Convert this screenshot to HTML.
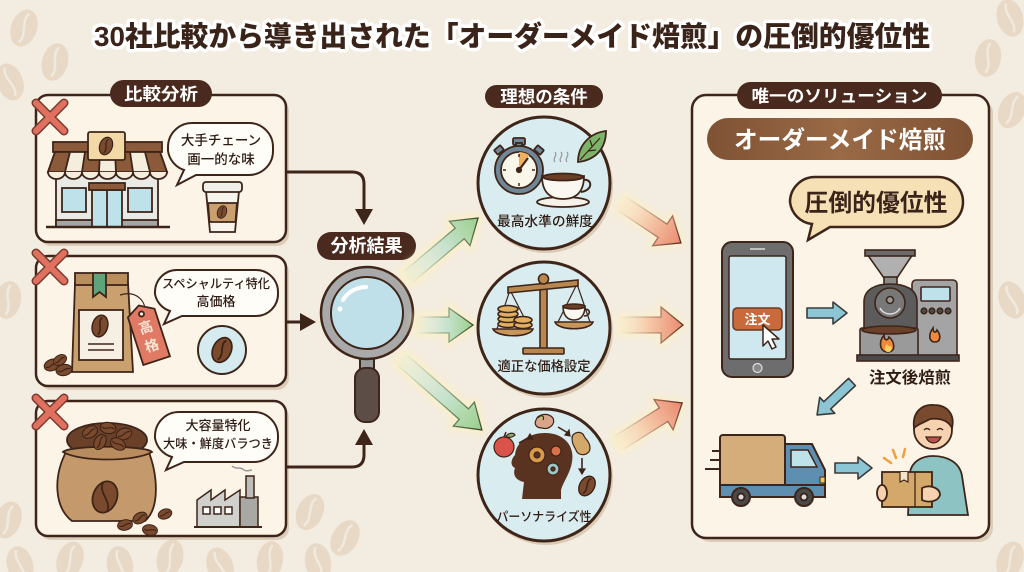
<!DOCTYPE html>
<html><head><meta charset="utf-8">
<style>
html,body{margin:0;padding:0;background:#f3ece1;}
svg{display:block;}
text{font-family:"Liberation Sans","Noto Sans CJK JP",sans-serif;font-weight:700;}
.sm{font-weight:500;}
</style></head>
<body>
<svg width="1024" height="572" viewBox="0 0 1024 572" xmlns="http://www.w3.org/2000/svg">
<defs>
 <g id="bean"><ellipse rx="7" ry="10" fill="#7a4a2e" stroke="#3b2216" stroke-width="1.3"/><path d="M0,-8 C-4,-3 4,3 0,8" fill="none" stroke="#3b2216" stroke-width="1.4"/></g>
 <g id="bgb"><ellipse rx="13" ry="19" fill="#e7d9c6"/><path d="M0,-15 C-6,-5 6,5 0,15" fill="none" stroke="#f2e9dd" stroke-width="2.5"/></g>
 <linearGradient id="gArr" x1="0" y1="0" x2="1" y2="0"><stop offset="0" stop-color="#d6ebee" stop-opacity="0.2"/><stop offset="0.55" stop-color="#c6e2cc"/><stop offset="1" stop-color="#9bcf8c"/></linearGradient>
 <linearGradient id="gStr" x1="0" y1="0" x2="1" y2="0"><stop offset="0" stop-color="#4d6b45" stop-opacity="0"/><stop offset="0.6" stop-color="#4d6b45" stop-opacity="0.6"/><stop offset="1" stop-color="#3e4a30"/></linearGradient>
 <linearGradient id="sArr" x1="0" y1="0" x2="1" y2="0"><stop offset="0" stop-color="#f8e6cc" stop-opacity="0.3"/><stop offset="0.5" stop-color="#f4c4a4"/><stop offset="1" stop-color="#ea8a70"/></linearGradient>
 <linearGradient id="sStr" x1="0" y1="0" x2="1" y2="0"><stop offset="0" stop-color="#7a3e2e" stop-opacity="0"/><stop offset="0.6" stop-color="#7a3e2e" stop-opacity="0.5"/><stop offset="1" stop-color="#5a2e22"/></linearGradient>
 <linearGradient id="barG" x1="0" y1="0" x2="1" y2="0"><stop offset="0" stop-color="#7f5234"/><stop offset="0.5" stop-color="#9a6a46"/><stop offset="1" stop-color="#7f5234"/></linearGradient>
 <filter id="blur" x="-30%" y="-30%" width="160%" height="160%"><feGaussianBlur stdDeviation="4"/></filter>
</defs>

<!-- background -->
<rect width="1024" height="572" fill="#f3ece1"/>
<use href="#bgb" transform="translate(24,28) rotate(20)"/>
<use href="#bgb" transform="translate(55,62) rotate(15)"/>
<use href="#bgb" transform="translate(10,82) rotate(-20)"/>
<use href="#bgb" transform="translate(1010,18) rotate(-15)"/>
<use href="#bgb" transform="translate(988,58) rotate(10)"/>
<use href="#bgb" transform="translate(1012,110) rotate(25)"/>
<use href="#bgb" transform="translate(1012,300) rotate(-20)"/>
<use href="#bgb" transform="translate(1010,560) rotate(20)"/>
<use href="#bgb" transform="translate(8,520) rotate(20)"/>
<use href="#bgb" transform="translate(20,565) rotate(-15)"/>
<use href="#bgb" transform="translate(70,560) rotate(20)"/>
<use href="#bgb" transform="translate(120,565) rotate(-10)"/>
<use href="#bgb" transform="translate(170,558) rotate(15)"/>
<use href="#bgb" transform="translate(220,566) rotate(-20)"/>
<use href="#bgb" transform="translate(270,560) rotate(10)"/>
<use href="#bgb" transform="translate(310,512) rotate(25)"/>
<use href="#bgb" transform="translate(345,538) rotate(30)"/>
<use href="#bgb" transform="translate(318,562) rotate(-10)"/>
<use href="#bgb" transform="translate(8,300) rotate(10)"/>

<!-- title -->
<text x="512" y="46" text-anchor="middle" font-size="28" textLength="836" lengthAdjust="spacingAndGlyphs" fill="#3a2318" stroke="#ffffff" stroke-width="7" stroke-linejoin="round" paint-order="stroke" style="font-weight:900">30社比較から導き出された「オーダーメイド焙煎」の圧倒的優位性</text>

<!-- ===== LEFT PANELS ===== -->
<g stroke="#3e2519" stroke-width="2.5">
 <rect x="39" y="99" width="250" height="147" rx="12" fill="#dccdb9" stroke="none"/>
 <rect x="36" y="95" width="250" height="147" rx="12" fill="#fcf4e7"/>
 <rect x="39" y="260" width="250" height="130" rx="12" fill="#dccdb9" stroke="none"/>
 <rect x="36" y="256" width="250" height="130" rx="12" fill="#fcf4e7"/>
 <rect x="39" y="405" width="250" height="135" rx="12" fill="#dccdb9" stroke="none"/>
 <rect x="36" y="401" width="250" height="135" rx="12" fill="#fcf4e7"/>
</g>
<rect x="110" y="80" width="102" height="27" rx="13.5" fill="#4a2a1e"/>
<text x="161" y="100" text-anchor="middle" font-size="17" fill="#fff" textLength="74" lengthAdjust="spacingAndGlyphs">比較分析</text>

<!-- red X marks -->
<g stroke-linecap="round">
 <g transform="translate(50,117)"><path d="M-14,-14 L14,14 M14,-14 L-14,14" stroke="#7a3a2e" stroke-width="9"/><path d="M-14,-14 L14,14 M14,-14 L-14,14" stroke="#e0705f" stroke-width="6"/></g>
 <g transform="translate(50,267)"><path d="M-14,-14 L14,14 M14,-14 L-14,14" stroke="#7a3a2e" stroke-width="9"/><path d="M-14,-14 L14,14 M14,-14 L-14,14" stroke="#e0705f" stroke-width="6"/></g>
 <g transform="translate(50,412)"><path d="M-14,-14 L14,14 M14,-14 L-14,14" stroke="#7a3a2e" stroke-width="9"/><path d="M-14,-14 L14,14 M14,-14 L-14,14" stroke="#e0705f" stroke-width="6"/></g>
</g>

<!-- Panel 1: store -->
<g stroke="#3e2519" stroke-width="1.8">
 <rect x="56" y="175" width="102" height="52" fill="#e9e9e6"/>
 <rect x="56" y="220" width="102" height="7" fill="#a5a5a5"/>
 <rect x="62" y="188" width="24" height="24" fill="#bfe1ea"/>
 <rect x="128" y="188" width="24" height="24" fill="#bfe1ea"/>
 <rect x="92" y="190" width="30" height="37" fill="#bfe1ea"/>
 <line x1="107" y1="190" x2="107" y2="227"/>
 <rect x="89" y="183" width="36" height="7" fill="#8a5a3a"/>
 <line x1="46" y1="227" x2="170" y2="227" stroke-width="2.5"/>
 <rect x="53" y="142" width="109" height="10" fill="#8a5a3a"/>
 <polygon points="55,152 160,152 167,172 48,172" fill="#f6eedd"/>
 <polygon points="55,152 70,152 65,172 48,172" fill="#8a5a3a"/>
 <polygon points="85,152 100,152 99,172 82,172" fill="#8a5a3a"/>
 <polygon points="115,152 130,152 133,172 116,172" fill="#8a5a3a"/>
 <polygon points="145,152 160,152 167,172 150,172" fill="#8a5a3a"/>
 <path d="M48,172 a8.5,7 0 0 0 17,0 a8.5,7 0 0 0 17,0 a8.5,7 0 0 0 17,0 a8.5,7 0 0 0 17,0 a8.5,7 0 0 0 17,0 a8.5,7 0 0 0 17,0 a8.5,7 0 0 0 17,0" fill="#f6eedd"/>
 <rect x="88" y="132" width="37" height="28" rx="2" fill="#f3d9a6"/>
</g>
<use href="#bean" transform="translate(106,146) rotate(20) scale(0.9)"/>
<path d="M192,123 H249 A24,24 0 0 1 273,147 V151 A24,24 0 0 1 249,175 H196 L177,185 L184,170 A24,24 0 0 1 168,151 V147 A24,24 0 0 1 192,123 Z" fill="#fffdf8" stroke="#3e2519" stroke-width="2"/>
<text class="sm" x="221" y="145" text-anchor="middle" font-size="13.5" fill="#2e1c14">大手チェーン</text>
<text class="sm" x="221" y="164" text-anchor="middle" font-size="13.5" fill="#2e1c14">画一的な味</text>
<g stroke="#3e2519" stroke-width="1.8">
 <path d="M206,191 H239 L235,232 H210 Z" fill="#f7f4ee"/>
 <path d="M208,203 H237 L235.5,222 H209.5 Z" fill="#c9a06e"/>
 <rect x="203" y="182" width="39" height="10" rx="3" fill="#f0efea"/>
</g>
<use href="#bean" transform="translate(222,212) rotate(20) scale(0.65)"/>

<!-- Panel 2: bag -->
<g stroke="#3e2519" stroke-width="1.8">
 <polygon points="75,283 128,283 133,372 72,372" fill="#c9a06e"/>
 <rect x="75" y="273" width="53" height="12" fill="#b98e5c"/>
 <path d="M93,273 H106 V297 L99.5,292 L93,297 Z" fill="#5fa37a"/>
 <rect x="79" y="310" width="44" height="50" fill="#f6f0e4"/>
 <line x1="88" y1="344" x2="114" y2="344" stroke-width="1.5"/>
 <line x1="88" y1="350" x2="114" y2="350" stroke-width="1.5"/>
 <path d="M120,295 C135,290 145,300 145,310" fill="none" stroke-width="1.2"/>
 <g transform="translate(148,334) rotate(-18)">
  <path d="M-14,-22 L0,-30 L14,-22 V28 H-14 Z" fill="#e07a64"/>
  <circle cx="0" cy="-21" r="2.5" fill="#fcf4e7"/>
  <text x="0" y="-2" text-anchor="middle" font-size="14" fill="#fbe6d6" stroke="none">高</text>
  <text x="0" y="17" text-anchor="middle" font-size="14" fill="#fbe6d6" stroke="none">格</text>
 </g>
</g>
<use href="#bean" transform="translate(100,326) rotate(15) scale(1.1)"/>
<use href="#bean" transform="translate(52,365) rotate(70) scale(0.8)"/>
<use href="#bean" transform="translate(64,370) rotate(80) scale(0.8)"/>
<use href="#bean" transform="translate(60,360) rotate(60) scale(0.7)"/>
<path d="M177,270 H256 A22,22 0 0 1 278,292 V294 A22,22 0 0 1 256,316 H182 L164,324 L170,311 A22,22 0 0 1 155,294 V292 A22,22 0 0 1 177,270 Z" fill="#fffdf8" stroke="#3e2519" stroke-width="2"/>
<text class="sm" x="216" y="288" text-anchor="middle" font-size="12.5" fill="#2e1c14" textLength="108" lengthAdjust="spacingAndGlyphs">スペシャルティ特化</text>
<text class="sm" x="216" y="306" text-anchor="middle" font-size="13" fill="#2e1c14">高価格</text>
<circle cx="222" cy="350" r="24" fill="#d5ebf0" stroke="#3e2519" stroke-width="2"/>
<use href="#bean" transform="translate(222,350) rotate(25) scale(1.3)"/>

<!-- Panel 3: sack -->
<g stroke="#3e2519" stroke-width="1.8">
 <path d="M67,450 C52,478 55,508 72,521 L145,521 C160,508 158,475 148,450 Z" fill="#c49a6c"/>
 <ellipse cx="107" cy="440" rx="40" ry="17" fill="#6b4029"/>
 <path d="M63,452 C80,462 135,462 152,452 C145,445 70,445 63,452 Z" fill="#b88c5e"/>
 <ellipse cx="105" cy="497" rx="12" ry="16" transform="rotate(20 105 497)" fill="#7a4a2e"/>
 <path d="M103,483 C98,492 112,502 107,511" fill="none"/>
</g>
<use href="#bean" transform="translate(90,432) rotate(60) scale(0.8)"/>
<use href="#bean" transform="translate(108,428) rotate(100) scale(0.8)"/>
<use href="#bean" transform="translate(124,434) rotate(70) scale(0.8)"/>
<use href="#bean" transform="translate(100,442) rotate(30) scale(0.8)"/>
<use href="#bean" transform="translate(118,444) rotate(120) scale(0.8)"/>
<use href="#bean" transform="translate(125,525) rotate(80) scale(0.75)"/>
<use href="#bean" transform="translate(140,518) rotate(60) scale(0.75)"/>
<use href="#bean" transform="translate(150,530) rotate(100) scale(0.75)"/>
<use href="#bean" transform="translate(165,514) rotate(70) scale(0.7)"/>
<path d="M179,412 H254 A24,24 0 0 1 278,436 V438 A24,24 0 0 1 254,462 H184 L166,470 L172,457 A24,24 0 0 1 155,438 V436 A24,24 0 0 1 179,412 Z" fill="#fffdf8" stroke="#3e2519" stroke-width="2"/>
<text class="sm" x="218" y="430" text-anchor="middle" font-size="13" fill="#2e1c14">大容量特化</text>
<text class="sm" x="218" y="448" text-anchor="middle" font-size="12.5" fill="#2e1c14" textLength="110" lengthAdjust="spacingAndGlyphs">大味・鮮度バラつき</text>
<g stroke="#3e2519" stroke-width="1.5">
 <polygon points="197,527 197,500 211,490 211,500 225,490 225,500 240,490 240,527" fill="#d0d0cc"/>
 <rect x="240" y="497" width="18" height="30" fill="#a8a8a4"/>
 <rect x="246" y="476" width="8" height="22" fill="#bdbdb9"/>
 <rect x="203" y="507" width="7" height="7" fill="#fff"/>
 <rect x="214" y="507" width="7" height="7" fill="#fff"/>
 <rect x="225" y="507" width="7" height="7" fill="#fff"/>
 <line x1="194" y1="527" x2="262" y2="527" stroke-width="2"/>
 <path d="M232,466 C236,470 240,466 244,470 C247,472 250,470 252,470" fill="none" stroke="#9a9a9a"/>
</g>

<!-- connectors -->
<g stroke="#3e2519" stroke-width="3" fill="none">
 <path d="M286,172 H352 Q364,172 364,184 V212"/>
 <path d="M286,322 H303"/>
 <path d="M286,467 H352 Q364,467 364,455 V442"/>
</g>
<g fill="#3e2519">
 <polygon points="355,209 373,209 364,225"/>
 <polygon points="300,313 300,331 316,322"/>
 <polygon points="355,445 373,445 364,429"/>
</g>

<!-- analysis result label -->
<rect x="317" y="232" width="99" height="28" rx="14" fill="#4a2a1e"/>
<text x="366.5" y="252" text-anchor="middle" font-size="18" fill="#fff">分析結果</text>

<!-- magnifier -->
<g stroke="#3e2519" stroke-width="2">
 <rect x="360" y="356" width="14" height="16" fill="#9a9a9a"/>
 <rect x="355" y="368" width="24" height="54" rx="10" fill="#5d4d47"/>
 <circle cx="367" cy="313" r="46" fill="#a9a9a9" stroke-width="2.5"/>
 <circle cx="367" cy="313" r="36" fill="#bfe0e8"/>
</g>
<path d="M343,300 A27,27 0 0 1 366,287" fill="none" stroke="#fff" stroke-width="4" stroke-linecap="round"/>
<circle cx="340" cy="309" r="2.5" fill="#fff"/>

<!-- green arrows -->
<g>
 <g transform="translate(407,278) rotate(-40.2)">
  <polygon points="0,-7 69,-7 69,-16 93,0 69,16 69,7 0,7" fill="#fff2b8" stroke="#fff2b8" stroke-width="8" opacity="0.6" filter="url(#blur)"/>
  <polygon points="0,-7 69,-7 69,-16 93,0 69,16 69,7 0,7" fill="url(#gArr)" stroke="url(#gStr)" stroke-width="1.3"/>
 </g>
 <g transform="translate(417,325)">
  <polygon points="0,-8 32,-8 32,-17 56,0 32,17 32,8 0,8" fill="#fff2b8" stroke="#fff2b8" stroke-width="8" opacity="0.6" filter="url(#blur)"/>
  <polygon points="0,-8 32,-8 32,-17 56,0 32,17 32,8 0,8" fill="url(#gArr)" stroke="url(#gStr)" stroke-width="1.3"/>
 </g>
 <g transform="translate(400,358) rotate(41.3)">
  <polygon points="0,-7 85,-7 85,-16 109,0 85,16 85,7 0,7" fill="#fff2b8" stroke="#fff2b8" stroke-width="8" opacity="0.6" filter="url(#blur)"/>
  <polygon points="0,-7 85,-7 85,-16 109,0 85,16 85,7 0,7" fill="url(#gArr)" stroke="url(#gStr)" stroke-width="1.3"/>
 </g>
</g>

<!-- ideal conditions -->
<rect x="485" y="85" width="118" height="23" rx="11.5" fill="#4a2a1e"/>
<text x="544" y="103" text-anchor="middle" font-size="17.5" fill="#fff">理想の条件</text>

<g stroke="#3e2519" stroke-width="3">
 <circle cx="546" cy="186" r="67" fill="#dccbb4" stroke="none"/>
 <circle cx="544" cy="183" r="66" fill="#d9ecef"/>
 <circle cx="546" cy="331" r="67" fill="#dccbb4" stroke="none"/>
 <circle cx="544" cy="328" r="66" fill="#d9ecef"/>
 <circle cx="546" cy="478" r="67" fill="#dccbb4" stroke="none"/>
 <circle cx="544" cy="475" r="66" fill="#d9ecef"/>
</g>

<!-- circle 1: stopwatch + cup -->
<g stroke="#3e2519" stroke-width="1.8">
 <rect x="513" y="138" width="12" height="7" rx="1.5" fill="#6f8796"/>
 <rect x="516" y="143" width="6" height="5" fill="#6f8796"/>
 <rect x="495" y="147" width="8" height="6" rx="1" transform="rotate(-40 499 150)" fill="#6f8796"/>
 <rect x="535" y="147" width="8" height="6" rx="1" transform="rotate(40 539 150)" fill="#6f8796"/>
 <circle cx="519" cy="170" r="24" fill="#6f8796"/>
 <circle cx="519" cy="170" r="18" fill="#fbf6ea"/>
 <path d="M519,170 L519,152 A18,18 0 0 1 529.3,155.3 Z" fill="#f0b060" stroke="none"/>
 <line x1="519" y1="170" x2="528" y2="158" stroke-width="2.2"/>
 <circle cx="519" cy="170" r="2.2" fill="#3e2519"/>
 <path d="M519,154 v3 M535,170 h-3 M519,186 v-3 M503,170 h3" stroke-width="1.5"/>
 <ellipse cx="563" cy="202" rx="26" ry="5" fill="#f7f3ea"/>
 <path d="M542,176 H584 C584,192 576,199 563,199 C550,199 542,192 542,176 Z" fill="#fbf8f1"/>
 <path d="M583,180 C592,178 594,190 581,192" fill="none" stroke-width="2"/>
 <ellipse cx="563" cy="177" rx="20" ry="3.5" fill="#6b3f26"/>
 <path d="M555,162 c-3,-4 3,-6 0,-10 M561,162 c-3,-4 3,-6 0,-10 M567,162 c-3,-4 3,-6 0,-10" fill="none" stroke="#9a9a9a" stroke-width="1.3"/>
 <path d="M578,162 C578,145 590,133 606,131 C606,148 596,160 578,162 Z" fill="#7db36a"/>
 <path d="M580,160 L600,138 M588,151 L596,150 M592,146 L590,140" fill="none" stroke-width="1.2"/>
</g>
<text class="sm" x="545" y="226" text-anchor="middle" font-size="13.5" fill="#2e1c14" textLength="96" lengthAdjust="spacingAndGlyphs">最高水準の鮮度</text>

<!-- circle 2: scale -->
<g stroke="#3e2519" stroke-width="1.6">
 <line x1="510" y1="290" x2="497" y2="329" stroke-width="1.2"/>
 <line x1="510" y1="290" x2="530" y2="329" stroke-width="1.2"/>
 <line x1="577" y1="284" x2="558" y2="322" stroke-width="1.2"/>
 <line x1="577" y1="284" x2="590" y2="322" stroke-width="1.2"/>
 <rect x="540" y="280" width="7" height="70" fill="#b8874e"/>
 <polygon points="508,287 578,280 578,286 508,293" fill="#b8874e"/>
 <circle cx="543.5" cy="279" r="5" fill="#b8874e"/>
 <rect x="523" y="348" width="41" height="6" rx="1" fill="#b8874e"/>
 <path d="M493,329 H533 C530,338 497,338 493,329 Z" fill="#c9965a"/>
 <path d="M555,322 H593 C590,331 558,331 555,322 Z" fill="#c9965a"/>
 <ellipse cx="508" cy="324" rx="10" ry="3.5" fill="#e0b060"/>
 <ellipse cx="508" cy="319" rx="10" ry="3.5" fill="#e0b060"/>
 <ellipse cx="508" cy="314" rx="10" ry="3.5" fill="#e0b060"/>
 <ellipse cx="508" cy="309" rx="10" ry="3.5" fill="#e0b060"/>
 <ellipse cx="523" cy="325" rx="9" ry="3.5" fill="#e0b060"/>
 <ellipse cx="523" cy="320" rx="9" ry="3.5" fill="#e0b060"/>
 <path d="M563,306 H585 C585,316 580,320 574,320 C568,320 563,316 563,306 Z" fill="#fbf8f1"/>
 <path d="M585,309 C591,309 591,316 584,316" fill="none"/>
 <ellipse cx="574" cy="306.5" rx="11" ry="2.5" fill="#6b3f26"/>
</g>
<text class="sm" x="544" y="371" text-anchor="middle" font-size="13.5" fill="#2e1c14" textLength="93" lengthAdjust="spacingAndGlyphs">適正な価格設定</text>

<!-- circle 3: personalization -->
<path d="M522,499 L524,482 C514,480 513,473 515,468 C509,465 512,458 515,455 C516,442 529,433 545,433 C564,433 575,446 572,462 C570,474 563,482 561,490 L561,499 Z" fill="#5a3320"/>
<g stroke="#3e2519" stroke-width="1.2">
 <circle cx="537" cy="455" r="8" fill="#d99a4a"/>
 <circle cx="537" cy="455" r="3" fill="#5a3320"/>
 <circle cx="556" cy="451" r="5" fill="#d9724a"/>
 <circle cx="553" cy="469" r="6" fill="#9cc8cc"/>
 <circle cx="553" cy="469" r="2" fill="#5a3320"/>
 <circle cx="504" cy="447" r="10" fill="#d9534a"/>
 <path d="M504,437 L506,432" stroke-width="1.5"/>
 <path d="M506,436 C510,432 514,433 515,435 C512,438 508,438 506,436 Z" fill="#7db36a"/>
 <path d="M536,420 C538,414 548,412 553,418 C556,425 548,430 542,428 C536,428 534,424 536,420 Z" fill="#d9a58a"/>
 <path d="M538,418 C541,414 545,416 543,420" fill="#b8c870"/>
 <path d="M572,438 C572,432 582,430 584,436 C586,440 590,442 590,448 C590,456 578,457 576,450 C574,446 572,444 572,438 Z" fill="#d4a86a"/>
 <path d="M519,443 L530,437 M558,427 L568,433 M582,458 L582,470" fill="none" stroke-width="1.6"/>
 <polygon points="530,434 533,439 527,439" fill="#3e2519"/>
 <polygon points="569,430 570,436 565,435" fill="#3e2519"/>
 <polygon points="579,469 585,469 582,474" fill="#3e2519"/>
</g>
<use href="#bean" transform="translate(587,486) rotate(30) scale(1.05)"/>
<text class="sm" x="544" y="521" text-anchor="middle" font-size="12.5" fill="#2e1c14" textLength="95" lengthAdjust="spacingAndGlyphs">パーソナライズ性</text>

<!-- salmon arrows -->
<g transform="translate(621,203) rotate(33.7)">
 <polygon points="0,-8 50,-8 50,-18 72,0 50,18 50,8 0,8" fill="#fff2b8" stroke="#fff2b8" stroke-width="8" opacity="0.5" filter="url(#blur)"/>
 <polygon points="0,-8 50,-8 50,-18 72,0 50,18 50,8 0,8" fill="url(#sArr)" stroke="url(#sStr)" stroke-width="1.3"/>
</g>
<g transform="translate(620,325)">
 <polygon points="0,-8 41,-8 41,-18 63,0 41,18 41,8 0,8" fill="#fff2b8" stroke="#fff2b8" stroke-width="8" opacity="0.5" filter="url(#blur)"/>
 <polygon points="0,-8 41,-8 41,-18 63,0 41,18 41,8 0,8" fill="url(#sArr)" stroke="url(#sStr)" stroke-width="1.3"/>
</g>
<g transform="translate(617,444) rotate(-32.2)">
 <polygon points="0,-8 55,-8 55,-18 77,0 55,18 55,8 0,8" fill="#fff2b8" stroke="#fff2b8" stroke-width="8" opacity="0.5" filter="url(#blur)"/>
 <polygon points="0,-8 55,-8 55,-18 77,0 55,18 55,8 0,8" fill="url(#sArr)" stroke="url(#sStr)" stroke-width="1.3"/>
</g>

<!-- ===== RIGHT PANEL ===== -->
<rect x="696" y="99" width="297" height="443" rx="14" fill="#dccdb9"/>
<rect x="692" y="95" width="297" height="443" rx="14" fill="#fcf4e7" stroke="#3e2519" stroke-width="2.5"/>
<rect x="737" y="82" width="205" height="27" rx="13.5" fill="#4a2a1e"/>
<text x="839.5" y="102" text-anchor="middle" font-size="17" fill="#fff" textLength="176" lengthAdjust="spacingAndGlyphs">唯一のソリューション</text>

<rect x="707" y="118" width="266" height="42" rx="21" fill="url(#barG)"/>
<text x="840" y="148" text-anchor="middle" font-size="24" fill="#fff" textLength="212" lengthAdjust="spacingAndGlyphs">オーダーメイド焙煎</text>

<path d="M815,177 H938 A25,25 0 0 1 963,202 A25,25 0 0 1 938,227 H830 L808,240 L812,224 A25,25 0 0 1 790,202 A25,25 0 0 1 815,177 Z" fill="#f6e0b5" stroke="#3e2519" stroke-width="2.5"/>
<text x="876" y="211" text-anchor="middle" font-size="24" fill="#3a2318" textLength="143" lengthAdjust="spacingAndGlyphs">圧倒的優位性</text>

<!-- phone -->
<g stroke="#3e2519" stroke-width="2">
 <rect x="722" y="242" width="71" height="135" rx="10" fill="#6d6d6d"/>
 <rect x="729" y="256" width="57" height="103" rx="2" fill="#cfe7ef" stroke-width="1.5"/>
 <circle cx="757.5" cy="368" r="4.5" fill="#8a8a8a" stroke="#e0e0e0" stroke-width="1.2"/>
 <line x1="750" y1="249" x2="765" y2="249" stroke="#ddd" stroke-width="1.5"/>
 <rect x="733" y="308" width="49" height="22" rx="4" fill="#c96a3c" stroke="#6a3a22" stroke-width="1.5"/>
</g>
<text x="757.5" y="324" text-anchor="middle" font-size="13" fill="#fff">注文</text>
<polygon points="763,325 763,346 768,341 772,349 776,347 772,339 779,339" fill="#fff" stroke="#3e2519" stroke-width="1.5" stroke-linejoin="round"/>

<!-- blue arrows -->
<g fill="#8cc6d4" stroke="#3b3b3b" stroke-width="1.6" stroke-linejoin="round">
 <polygon transform="translate(807,313)" points="0,-5 26,-5 26,-11 40,0 26,11 26,5 0,5"/>
 <polygon transform="translate(852,382) rotate(136.7)" points="0,-5 34,-5 34,-11 48,0 34,11 34,5 0,5"/>
 <polygon transform="translate(835,468)" points="0,-5 23,-5 23,-11 37,0 23,11 23,5 0,5"/>
</g>

<!-- roaster -->
<g stroke="#3e2519" stroke-width="1.6">
 <rect x="912" y="280" width="45" height="78" rx="4" fill="#a4a4a4"/>
 <rect x="921" y="287" width="29" height="14" rx="1" fill="#bfe1ea"/>
 <circle cx="924" cy="311" r="2.8" fill="#4a4a4a"/>
 <circle cx="932" cy="311" r="2.8" fill="#4a4a4a"/>
 <circle cx="940" cy="311" r="2.8" fill="#4a4a4a"/>
 <circle cx="948" cy="311" r="2.8" fill="#4a4a4a"/>
 <path d="M935,342 C929,342 928,335 933,328 C933,333 936,333 937,330 C941,335 941,342 935,342 Z" fill="#f08a3a"/>
 <polygon points="867,254 913,254 897,278 884,278" fill="#b0b0b0"/>
 <rect x="865" y="250" width="50" height="6" fill="#6a6a6a"/>
 <rect x="884" y="277" width="13" height="9" fill="#8a8a8a"/>
 <path d="M864,332 V302 C864,289 876,284 890,284 C905,284 917,289 917,302 V332 Z" fill="#5c5c5c"/>
 <circle cx="890" cy="303" r="15" fill="#787878"/>
 <circle cx="890" cy="300" r="3.5" fill="#9a9a9a"/>
 <path d="M880,308 C884,316 896,316 900,308" fill="none" stroke="#ddd" stroke-width="1.5"/>
 <rect x="860" y="328" width="58" height="28" rx="2" fill="#9a9a9a"/>
 <ellipse cx="889" cy="330" rx="27" ry="4" fill="#6b4029"/>
 <path d="M888,352 C880,352 878,343 884,335 C884,341 888,341 889,337 C895,342 896,352 888,352 Z" fill="#f08a3a"/>
 <path d="M888,352 C884,352 884,347 887,344 C888,347 891,347 890,345 C893,348 892,352 888,352 Z" fill="#f8d05a" stroke="none"/>
 <rect x="857" y="355" width="102" height="6" fill="#4a4a4a"/>
</g>
<text x="910" y="383" text-anchor="middle" font-size="16" fill="#2e1c14" textLength="82" lengthAdjust="spacingAndGlyphs">注文後焙煎</text>

<!-- truck -->
<g stroke="#3e2519" stroke-width="2">
 <line x1="712" y1="451" x2="740" y2="451"/>
 <line x1="710" y1="460" x2="735" y2="460"/>
 <line x1="705" y1="469" x2="730" y2="469"/>
 <rect x="720" y="435" width="65" height="52" rx="3" fill="#d4ad7a"/>
 <path d="M785,444 H812 L825,470 V497 H785 Z" fill="#5e8fb0"/>
 <path d="M791,450 H808 L817,467 H791 Z" fill="#bfe1ea" stroke-width="1.5"/>
 <rect x="720" y="485" width="105" height="12" fill="#5e8fb0"/>
 <rect x="820" y="477" width="5" height="6" fill="#f2c94c" stroke-width="1"/>
 <circle cx="741" cy="497" r="9" fill="#4a4a4a"/>
 <circle cx="741" cy="497" r="3.5" fill="#ddd"/>
 <circle cx="804" cy="497" r="9" fill="#4a4a4a"/>
 <circle cx="804" cy="497" r="3.5" fill="#ddd"/>
</g>

<!-- person -->
<g stroke="#3e2519" stroke-width="1.8">
 <path d="M908,515 L910,472 C912,462 921,456 933,456 C948,456 960,463 962,476 L968,515 Z" fill="#8ec3c4"/>
 <circle cx="933" cy="430" r="19" fill="#f6d2b0"/>
 <path d="M914,428 C912,412 922,404 934,405 C948,405 955,415 952,428 C948,420 940,418 930,419 C925,422 918,424 914,428 Z" fill="#7a4a2e"/>
 <path d="M924,430 q3,-3 6,0 M937,430 q3,-3 6,0" fill="none" stroke-width="1.5"/>
 <path d="M926,437 C929,445 938,445 941,437 Z" fill="#c0504a" stroke-width="1.3"/>
 <rect x="882" y="472" width="50" height="35" fill="#d4a86a"/>
 <line x1="915" y1="472" x2="915" y2="507" stroke-width="1.3"/>
 <path d="M900,472 V482 L904,480 L908,482 V472" fill="#f3e4c4" stroke-width="1.2"/>
 <ellipse cx="882" cy="493" rx="5" ry="8" fill="#f6d2b0"/>
 <path d="M922,488 C930,484 940,488 940,495 C938,502 928,503 922,500 Z" fill="#f6d2b0"/>
</g>
<g stroke="#f0a040" stroke-width="2.5" stroke-linecap="round">
 <line x1="884" y1="458" x2="891" y2="463"/>
 <line x1="893" y1="450" x2="896" y2="458"/>
 <line x1="905" y1="449" x2="903" y2="457"/>
</g>
</svg>
</body></html>
